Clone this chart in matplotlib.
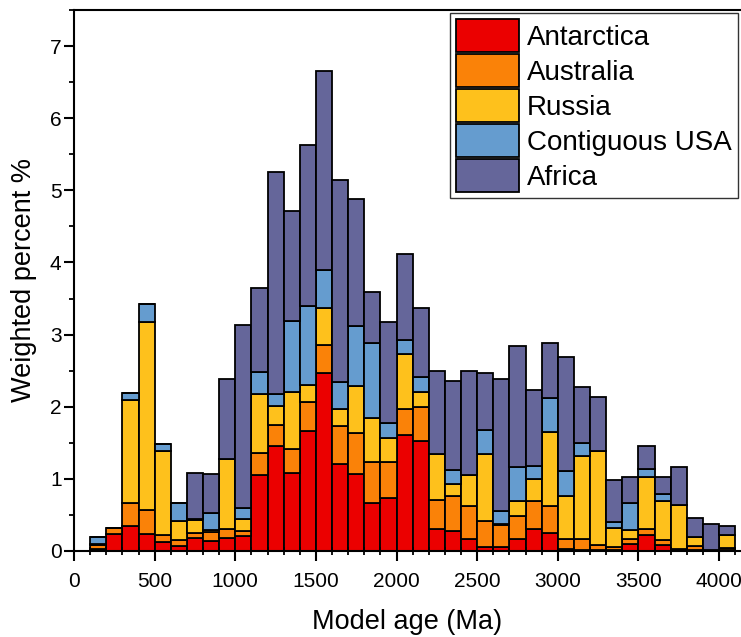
import numpy as np
import matplotlib
matplotlib.use("Agg")
import matplotlib.pyplot as plt
from matplotlib.ticker import MultipleLocator

plt.rcParams['font.family'] = ['Liberation Sans', 'DejaVu Sans']

# 100 Ma bins, left edges
bin_start = np.arange(100, 4100, 100)
bin_width = 100

antarctica = [0.03, 0.23, 0.35, 0.23, 0.12, 0.07, 0.18, 0.14, 0.18, 0.21,
              1.05, 1.45, 1.08, 1.66, 2.47, 1.20, 1.07, 0.67, 0.74, 1.61,
              1.53, 0.30, 0.28, 0.17, 0.05, 0.05, 0.17, 0.31, 0.25, 0.03,
              0.01, 0.01, 0.02, 0.10, 0.22, 0.08, 0.01, 0.02, 0.01, 0.02]
australia = [0.05, 0.09, 0.31, 0.34, 0.10, 0.08, 0.07, 0.13, 0.12, 0.07,
             0.31, 0.29, 0.33, 0.40, 0.38, 0.53, 0.57, 0.57, 0.49, 0.36,
             0.46, 0.41, 0.48, 0.45, 0.36, 0.31, 0.31, 0.39, 0.38, 0.13,
             0.15, 0.08, 0.03, 0.06, 0.09, 0.07, 0.02, 0.05, 0.00, 0.02]
russia = [0.02, 0.00, 1.44, 2.60, 1.17, 0.26, 0.18, 0.02, 0.97, 0.16,
          0.81, 0.27, 0.80, 0.24, 0.52, 0.24, 0.65, 0.60, 0.34, 0.76,
          0.22, 0.63, 0.17, 0.43, 0.94, 0.02, 0.21, 0.30, 1.02, 0.60,
          1.16, 1.30, 0.27, 0.13, 0.72, 0.55, 0.61, 0.13, 0.00, 0.18]
usa = [0.09, 0.00, 0.09, 0.26, 0.09, 0.25, 0.02, 0.23, 0.00, 0.15,
       0.31, 0.16, 0.98, 1.09, 0.52, 0.37, 0.83, 1.05, 0.21, 0.19,
       0.20, 0.00, 0.19, 0.00, 0.33, 0.18, 0.48, 0.18, 0.47, 0.35,
       0.18, 0.00, 0.08, 0.38, 0.10, 0.09, 0.00, 0.00, 0.00, 0.00]
africa = [0.00, 0.00, 0.00, 0.00, 0.00, 0.00, 0.63, 0.55, 1.11, 2.55,
          1.16, 3.08, 1.52, 2.24, 2.76, 2.81, 1.76, 0.70, 1.39, 1.20,
          0.96, 1.16, 1.23, 1.45, 0.79, 1.82, 1.67, 1.05, 0.77, 1.58,
          0.77, 0.75, 0.59, 0.35, 0.32, 0.23, 0.52, 0.26, 0.37, 0.13]

regions = ['Antarctica', 'Australia', 'Russia', 'Contiguous USA', 'Africa']
series = [antarctica, australia, russia, usa, africa]
colors = ['#EB0000', '#FA8208', '#FEC11C', '#659CCF', '#65669A']

fig = plt.figure(figsize=(7.41, 6.37), dpi=100)
ax = fig.add_axes([74 / 741, 86 / 637, 667 / 741, 541 / 637])

bottom = np.zeros(len(bin_start))
for name, vals, col in zip(regions, series, colors):
    vals = np.array(vals)
    ax.bar(bin_start, vals, width=bin_width, bottom=bottom, align='edge',
           color=col, edgecolor='black', linewidth=1.3, label=name)
    bottom += vals

ax.set_xlim(0, 4136)
ax.set_ylim(0, 7.5)

ax.xaxis.set_major_locator(MultipleLocator(500))
ax.xaxis.set_minor_locator(MultipleLocator(100))
ax.yaxis.set_major_locator(MultipleLocator(1))
ax.yaxis.set_minor_locator(MultipleLocator(0.5))

ax.spines['right'].set_visible(False)
for s in ['left', 'bottom', 'top']:
    ax.spines[s].set_linewidth(1.5)

ax.tick_params(axis='both', which='major', labelsize=15, width=1.5)
ax.tick_params(axis='x', which='major', direction='out', length=7, pad=8)
ax.tick_params(axis='x', which='minor', direction='inout', length=6, width=1.3)
ax.tick_params(axis='y', which='major', direction='out', length=7, pad=2)
ax.tick_params(axis='y', which='minor', direction='out', length=3.6, width=1.3)

ax.set_xlabel('Model age (Ma)', fontsize=19.5, labelpad=13)
ax.set_ylabel('Weighted percent %', fontsize=19.5, labelpad=9)

leg = ax.legend(loc='upper right', bbox_to_anchor=(0.9955, 0.9945),
                borderaxespad=0, fontsize=20, handlelength=2.25,
                handleheight=1.45, labelspacing=0.07, handletextpad=0.3,
                borderpad=0.22, fancybox=False, framealpha=1)
leg.get_frame().set_edgecolor('#333333')
leg.get_frame().set_linewidth(1.0)

fig.savefig('out.png', dpi=100)
